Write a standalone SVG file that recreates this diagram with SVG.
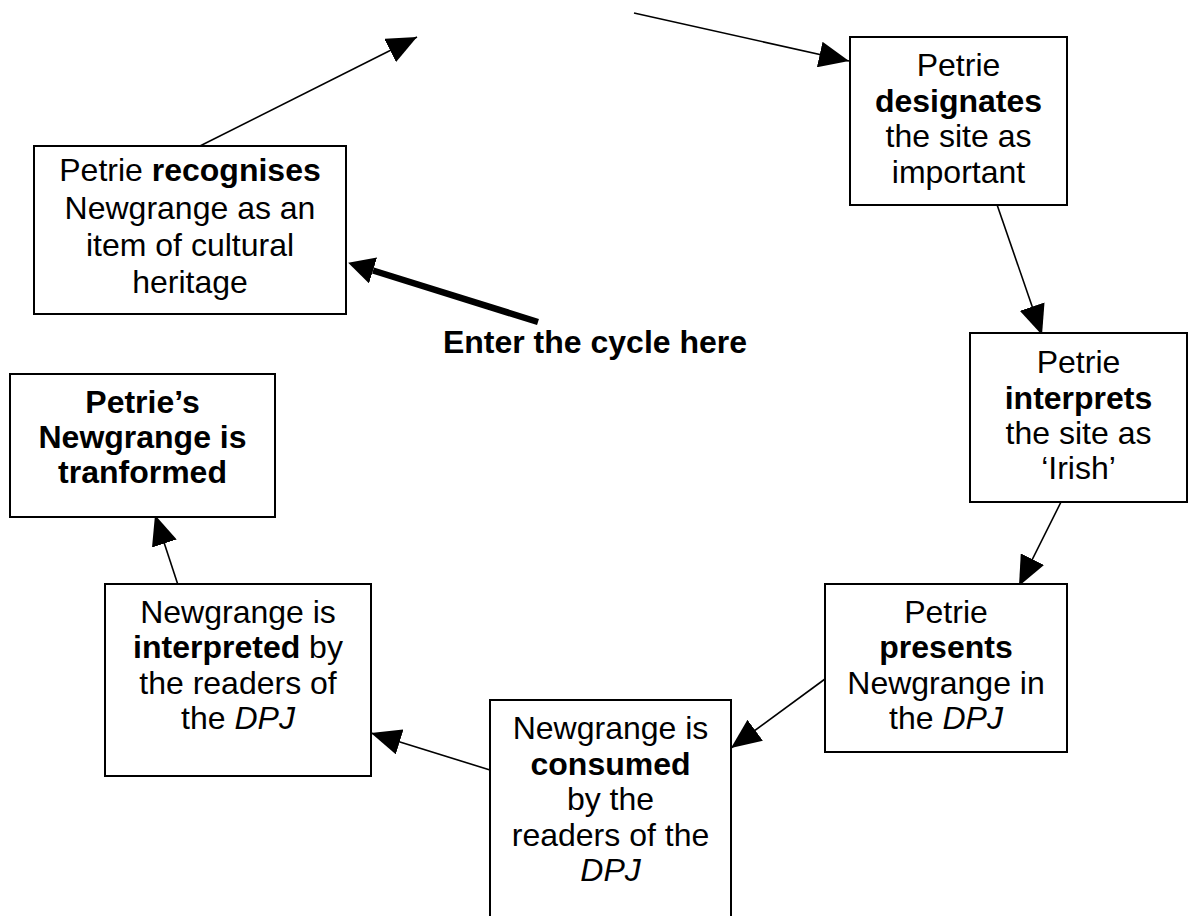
<svg xmlns="http://www.w3.org/2000/svg" width="1196" height="916" viewBox="0 0 1196 916">
<defs>
<style>
.box{fill:#fff;stroke:#000;stroke-width:2}
.t{font-family:"Liberation Sans",Arial,sans-serif;font-size:32px;fill:#000;text-anchor:middle}
.b{font-weight:bold}
.i{font-style:italic}
.c{stroke:#000;stroke-width:1.6;fill:none;marker-end:url(#ah)}
.thick{stroke:#000;stroke-width:6.5;fill:none;marker-end:url(#ahb)}
</style>
<marker id="ah" viewBox="0 0 30 26" refX="30" refY="13" markerUnits="userSpaceOnUse" markerWidth="30" markerHeight="26" orient="auto">
<path d="M0,0 L30,13 L0,26 Z" fill="#000"/>
</marker>
<marker id="ahb" viewBox="0 0 26 27" refX="0" refY="13.5" markerUnits="userSpaceOnUse" markerWidth="26" markerHeight="27" orient="auto">
<path d="M0,0 L26,13.5 L0,27 Z" fill="#000"/>
</marker>
</defs>
<rect width="1196" height="916" fill="#fff"/>
<g id="connectors">
<line class="c" x1="178" y1="157" x2="417" y2="37"/>
<line class="c" x1="634" y1="13" x2="849" y2="61"/>
<line class="c" x1="993" y1="193" x2="1042" y2="335"/>
<line class="c" x1="1066" y1="492" x2="1019" y2="586"/>
<line class="c" x1="825" y1="679" x2="731" y2="748"/>
<line class="c" x1="490" y1="770" x2="371" y2="733"/>
<line class="c" x1="178" y1="585" x2="155" y2="515"/>
<line class="thick" x1="538" y1="322" x2="373" y2="270.5"/>
</g>
<g id="n1">
<rect class="box" x="34" y="146" width="312" height="168"/>
<text class="t" x="190" y="181">Petrie <tspan class="b">recognises</tspan></text>
<text class="t" x="190" y="219">Newgrange as an</text>
<text class="t" x="190" y="256">item of cultural</text>
<text class="t" x="190" y="293">heritage</text>
</g>
<g id="n2">
<rect class="box" x="850" y="37" width="217" height="168"/>
<text class="t" x="958.5" y="76">Petrie</text>
<text class="t b" x="958.5" y="112">designates</text>
<text class="t" x="958.5" y="147">the site as</text>
<text class="t" x="958.5" y="183">important</text>
</g>
<g id="n3">
<rect class="box" x="970" y="333" width="217" height="169"/>
<text class="t" x="1078.5" y="373">Petrie</text>
<text class="t b" x="1078.5" y="409">interprets</text>
<text class="t" x="1078.5" y="444">the site as</text>
<text class="t" x="1078.5" y="479">‘Irish’</text>
</g>
<g id="n4">
<rect class="box" x="825" y="584" width="242" height="168"/>
<text class="t" x="946" y="623">Petrie</text>
<text class="t b" x="946" y="658">presents</text>
<text class="t" x="946" y="694">Newgrange in</text>
<text class="t" x="946" y="729">the <tspan class="i">DPJ</tspan></text>
</g>
<g id="n5">
<rect class="box" x="490" y="700" width="241" height="240"/>
<text class="t" x="610.5" y="739">Newgrange is</text>
<text class="t b" x="610.5" y="775">consumed</text>
<text class="t" x="610.5" y="810">by the</text>
<text class="t" x="610.5" y="846">readers of the</text>
<text class="t i" x="610.5" y="881">DPJ</text>
</g>
<g id="n6">
<rect class="box" x="105" y="584" width="266" height="192"/>
<text class="t" x="238" y="623">Newgrange is</text>
<text class="t" x="238" y="658"><tspan class="b">interpreted</tspan> by</text>
<text class="t" x="238" y="694">the readers of</text>
<text class="t" x="238" y="729">the <tspan class="i">DPJ</tspan></text>
</g>
<g id="n7">
<rect class="box" x="10" y="374" width="265" height="143"/>
<text class="t b" x="142.5" y="413">Petrie’s</text>
<text class="t b" x="142.5" y="448">Newgrange is</text>
<text class="t b" x="142.5" y="483">tranformed</text>
</g>
<g id="label">
<text class="t b" x="595" y="353">Enter the cycle here</text>
</g>
</svg>
